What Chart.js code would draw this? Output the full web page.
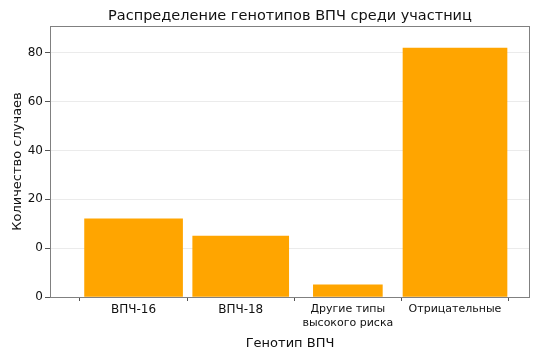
<!DOCTYPE html>
<html>
<head>
<meta charset="utf-8">
<script src="https://cdn.jsdelivr.net/npm/chart.js@4.4.1/dist/chart.umd.min.js"></script>
<style>
  html, body { margin: 0; padding: 0; background: #fff; }
</style>
</head>
<body>
<canvas id="hpvChart" width="542" height="361"></canvas>
<script>
// data
const categories = ['ВПЧ-16', 'ВПЧ-18', ['Другие типы', 'высокого риска'], 'Отрицательные'];
const counts = [32, 25, 5, 102];
const yTicks = [0, 20, 40, 60, 80, 100];
const yTickLabels = ['0', '0', '20', '40', '60', '80'];

// bars in the picture are not all the same width
const barWidths = [98, 96, 69, 104];
const barColor = '#ffa500';
const font = 'DejaVu Sans';

// one dataset per category so each bar can have its own width
const datasets = categories.map((c, i) => ({
  label: Array.isArray(c) ? c.join(' ') : c,
  data: [{ x: i, y: counts[i] }],
  backgroundColor: barColor,
  barThickness: barWidths[i],
  grouped: false,
}));

// box around the plot area
const frame = {
  id: 'frame',
  afterDraw(chart) {
    const { ctx, chartArea: a } = chart;
    ctx.save();
    ctx.strokeStyle = '#808080';
    ctx.lineWidth = 1;
    ctx.strokeRect(Math.round(a.left) + 0.5, Math.round(a.top) + 0.5,
      Math.round(a.right - a.left) - 1, Math.round(a.bottom - a.top));
    ctx.restore();
  }
};

const config = {
  type: 'bar',
  data: { datasets: datasets },
  options: {
    responsive: false,
    animation: false,
    layout: { padding: { left: 0, right: 12, top: 0, bottom: 0 } },
    plugins: {
      legend: { display: false },
      tooltip: { enabled: false },
      title: {
        display: true,
        fullSize: false,
        text: 'Распределение генотипов ВПЧ среди участниц',
        color: '#111',
        font: { family: font, size: 14.5, weight: 'normal' },
        padding: { top: 8, bottom: 0.6 },
      },
    },
    scales: {
      x: {
        type: 'linear',
        min: -0.78,
        max: 3.7,
        offset: false,
        border: { display: false },
        grid: { drawOnChartArea: false, tickLength: 4, tickColor: '#555' },
        afterBuildTicks: scale => { scale.ticks = categories.map((c, i) => ({ value: i })); },
        afterFit: scale => { scale.height = 64; },
        ticks: {
          padding: 2,
          maxRotation: 0,
          autoSkip: false,
          color: '#111',
          font: ctx => ({ family: font, size: ctx.index >= 2 ? 11 : 12 }),
          callback: v => categories[v],
        },
        title: {
          display: true,
          text: 'Генотип ВПЧ',
          color: '#111',
          font: { family: font, size: 13 },
          padding: { top: 4, bottom: 10 },
        },
      },
      y: {
        min: 0,
        max: 111,
        border: { display: false },
        grid: { color: '#ebebeb', tickLength: 5, tickColor: '#555' },
        afterBuildTicks: scale => { scale.ticks = yTicks.map(v => ({ value: v })); },
        afterFit: scale => { scale.width = 50; },
        ticks: {
          padding: 2,
          color: '#111',
          font: { family: font, size: 12 },
          callback: (v, i) => yTickLabels[i],
        },
        title: {
          display: true,
          text: 'Количество случаев',
          color: '#111',
          font: { family: font, size: 13 },
          padding: { top: 10, bottom: 4 },
        },
      },
    },
  },
  plugins: [frame],
};

new Chart(document.getElementById('hpvChart'), config);
</script>
</body>
</html>
